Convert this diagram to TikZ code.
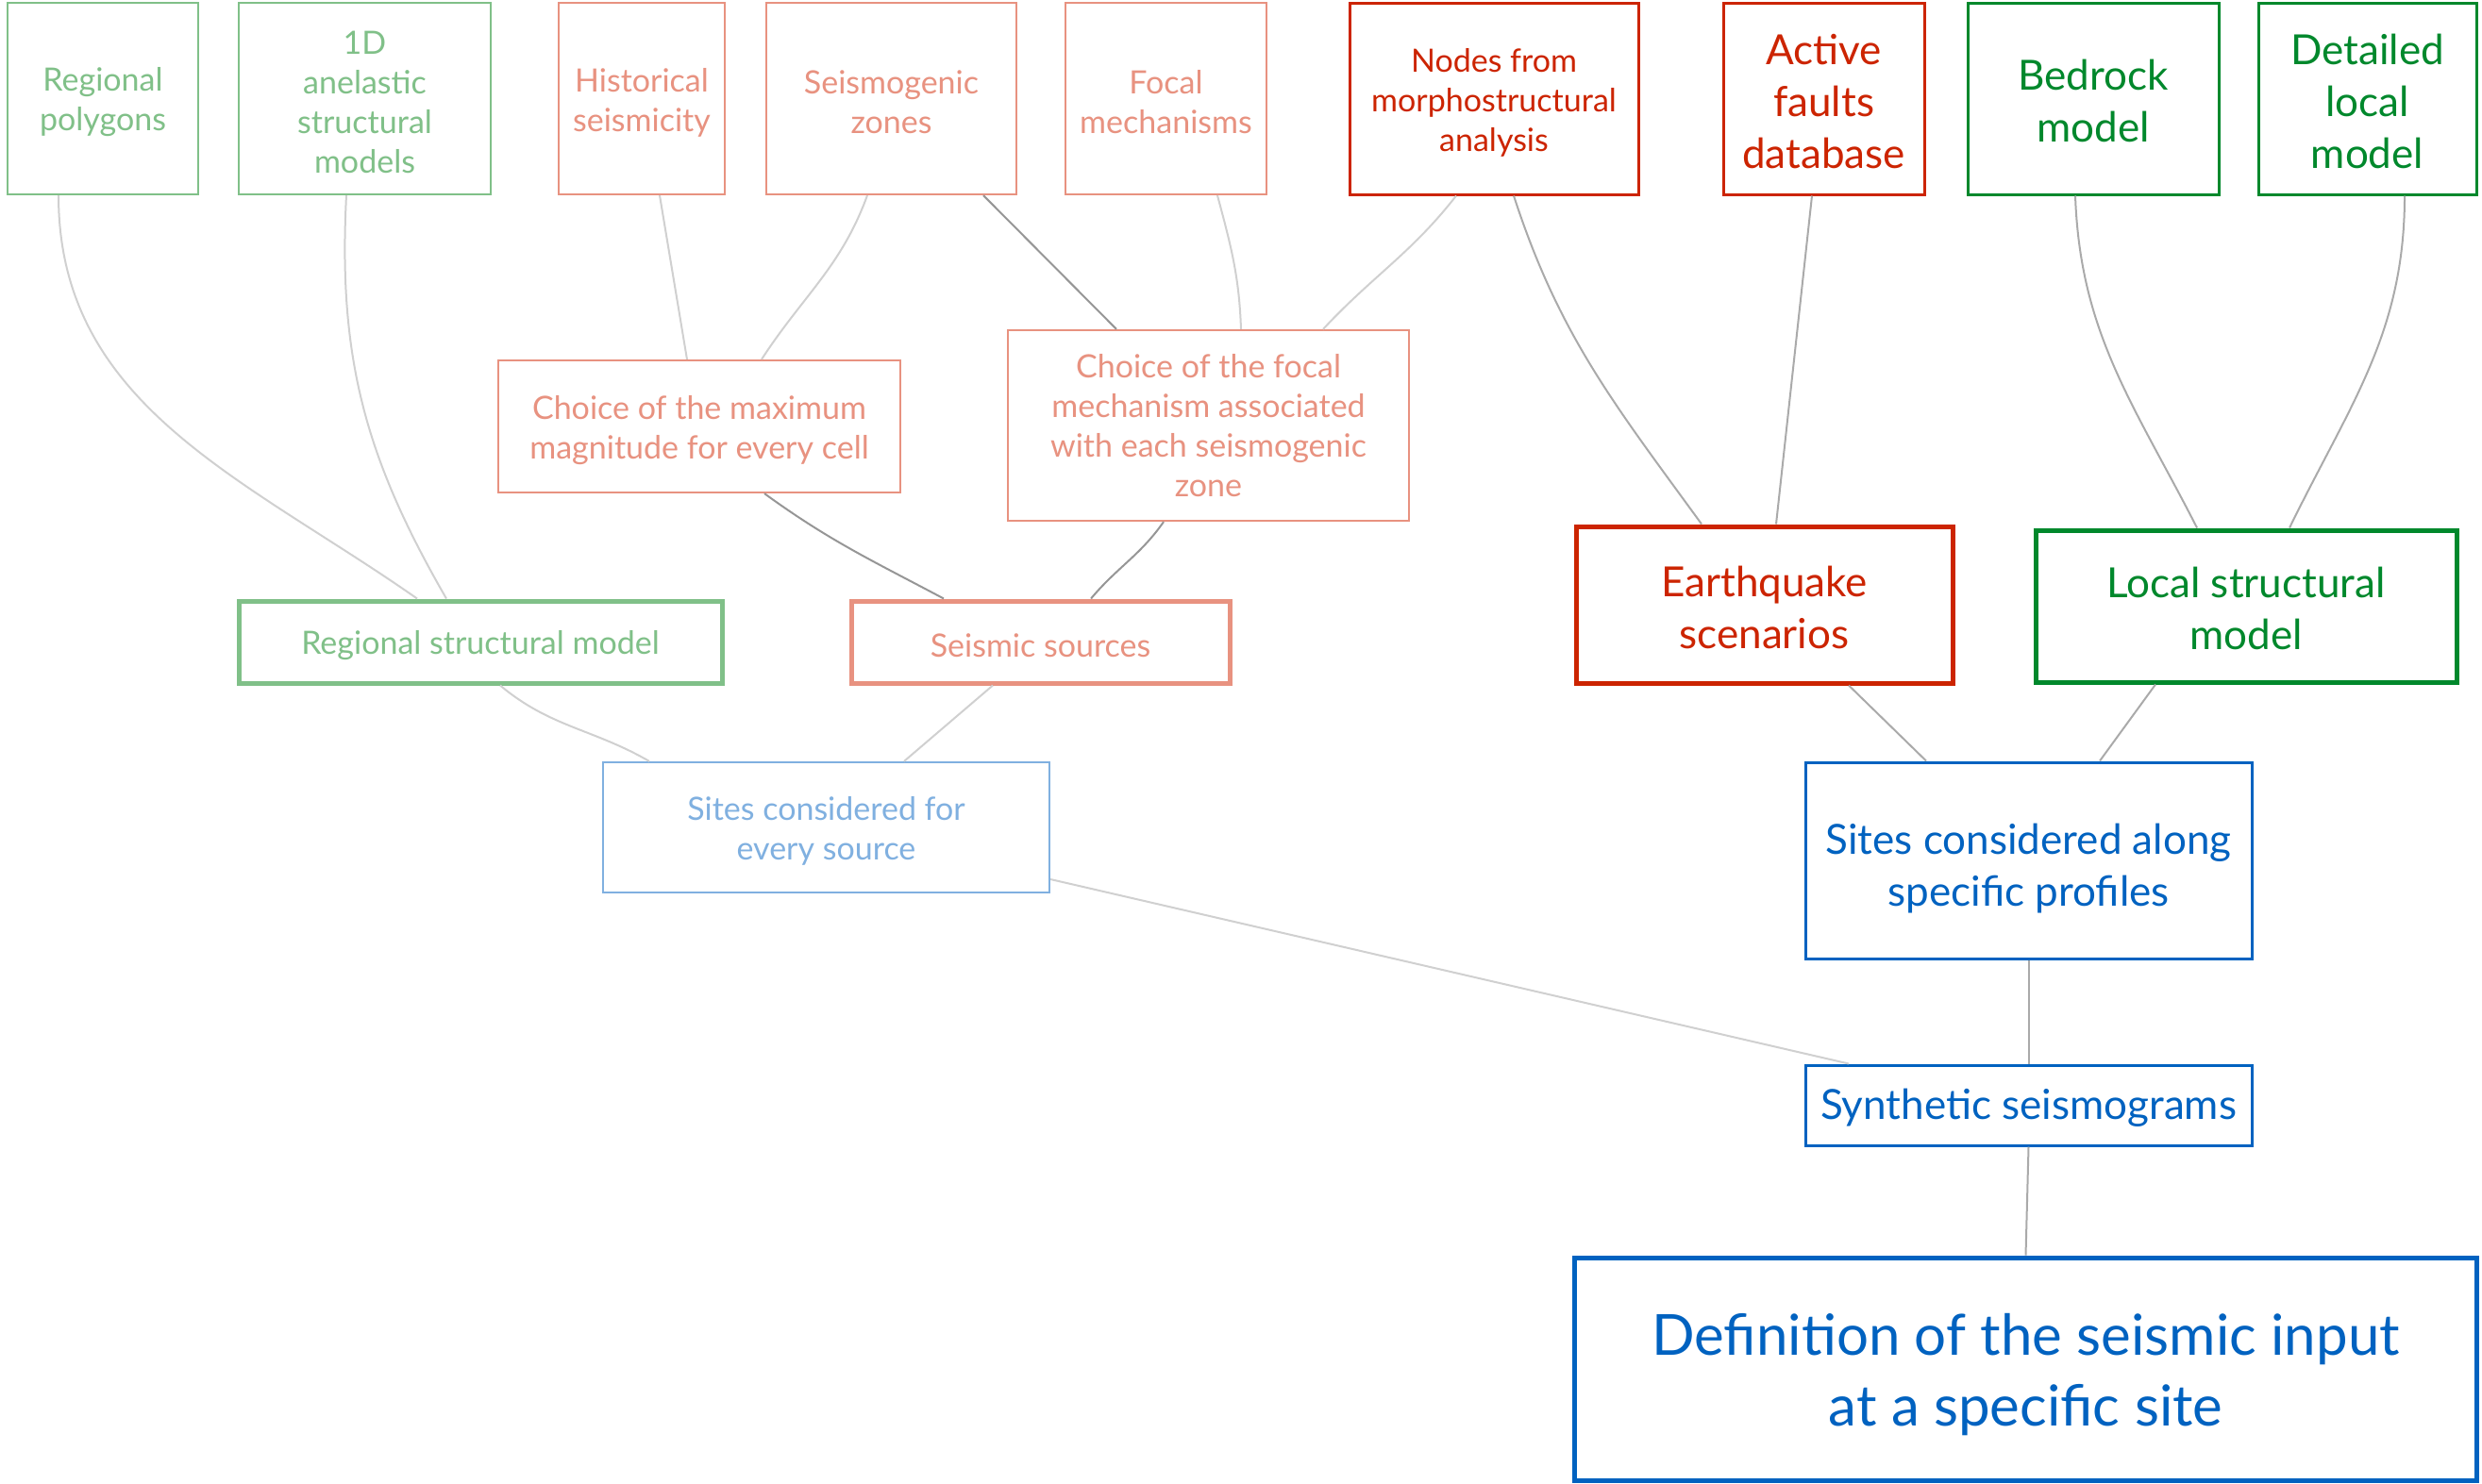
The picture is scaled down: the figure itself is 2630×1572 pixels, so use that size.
\documentclass[tikz,border=0pt]{standalone}
\usepackage{fontspec}
\setmainfont{Lato}
\usetikzlibrary{positioning, calc}

\definecolor{palegreen}{RGB}{128,192,136}
\definecolor{salmon}{RGB}{232,146,128}
\definecolor{brick}{RGB}{204,36,0}
\definecolor{forest}{RGB}{0,136,44}
\definecolor{paleblue}{RGB}{128,176,224}
\definecolor{deepblue}{RGB}{0,98,192}
\definecolor{linklight}{RGB}{208,208,208}
\definecolor{linkmid}{RGB}{170,170,170}
\definecolor{linkdark}{RGB}{150,150,150}

\newcommand{\fsA}{\fontsize{34}{42}\selectfont}
\newcommand{\fsB}{\fontsize{44}{55}\selectfont}
\newcommand{\fsC}{\fontsize{60}{75}\selectfont}
% struts that push the first line down a little
\newcommand{\liftA}{\rule{0pt}{33pt}}
\newcommand{\liftB}{\rule{0pt}{38pt}}
\newcommand{\liftC}{\rule{0pt}{57pt}}

\begin{document}
\begin{tikzpicture}[
        x=1pt, y=-1pt,
        box/.style={draw, rectangle, align=center, inner sep=0pt, fill=white},
        thinbox/.style={box, line width=2.2pt},
        midbox/.style={box, line width=3pt},
        thickbox/.style={box, line width=5pt},
        regional/.style={draw=palegreen, text=palegreen},
        seismic/.style={draw=salmon, text=salmon},
        scenario/.style={draw=brick, text=brick},
        local/.style={draw=forest, text=forest},
        siteall/.style={draw=paleblue, text=paleblue},
        siteprof/.style={draw=deepblue, text=deepblue},
        link/.style={line width=2pt, draw=linklight},
        linkm/.style={line width=2pt, draw=linkmid},
        linkd/.style={line width=2pt, draw=linkdark}
    ]
        \useasboundingbox (0,0) rectangle (2630,1572);

        % Top row: data sources
        \node (poly) [thinbox, regional, font=\fsA, minimum width=202pt, minimum height=203pt] at (109,104.5) {\liftA Regional\\polygons};
        \node (oned) [thinbox, regional, font=\fsA, minimum width=267pt, minimum height=203pt] at (386.5,104.5) {\liftA 1D\\anelastic\\structural\\models};
        \node (hist) [thinbox, seismic, font=\fsA, minimum width=176pt, minimum height=203pt] at (680,104.5) {\liftA Historical\\seismicity};
        \node (zones) [thinbox, seismic, font=\fsA, minimum width=265pt, minimum height=203pt] at (944.5,104.5) {\liftA Seismogenic\\zones};
        \node (focal) [thinbox, seismic, font=\fsA, minimum width=213pt, minimum height=203pt] at (1235.5,104.5) {\liftA Focal\\mechanisms};
        \node (morpho) [midbox, scenario, font=\fsA, minimum width=306pt, minimum height=203pt] at (1583,104.5) {\liftA Nodes from\\morphostructural\\analysis};
        \node (faults) [midbox, scenario, font=\fsB, minimum width=213pt, minimum height=203pt] at (1932.5,104.5) {\liftB Active\\faults\\database};
        \node (bedrock) [midbox, local, font=\fsB, minimum width=266pt, minimum height=203pt] at (2218,104.5) {\liftB Bedrock\\model};
        \node (detailed) [midbox, local, font=\fsB, minimum width=231pt, minimum height=203pt] at (2508.5,104.5) {\liftB Detailed\\local\\model};

        % Intermediate choices and models
        \node (choicemax) [thinbox, seismic, font=\fsA, minimum width=426pt, minimum height=140pt] at (741,452) {\liftA Choice of the maximum\\magnitude for every cell};
        \node (choicefocal) [thinbox, seismic, font=\fsA, minimum width=425pt, minimum height=202pt] at (1280.5,451) {Choice of the focal\\mechanism associated\\with each seismogenic\\zone};
        \node (quake) [thickbox, scenario, font=\fsB, minimum width=399pt, minimum height=166pt] at (1869.5,641) {\liftB Earthquake\\scenarios};
        \node (localmod) [thickbox, local, font=\fsB, minimum width=446pt, minimum height=161pt] at (2380,642.5) {\liftB Local structural\\model};
        \node (regmod) [thickbox, regional, font=\fsA, minimum width=512pt, minimum height=87pt] at (509,680.5) {\liftA Regional structural model};
        \node (sources) [thickbox, seismic, font=\fsA, minimum width=401pt, minimum height=87pt] at (1102.5,680.5) {\liftA Seismic sources};

        % Sites and output
        \node (sitesall) [thinbox, siteall, font=\fsA, minimum width=473pt, minimum height=138pt] at (875.5,877) {\liftA Sites considered for\\every source};
        \node (sitesprof) [midbox, siteprof, font=\fsB, minimum width=473pt, minimum height=208pt] at (2149.5,912) {\rule{0pt}{49pt}Sites considered along\\specific profiles};
        \node (synth) [midbox, siteprof, font=\fsB, minimum width=473pt, minimum height=85pt] at (2149.5,1171.5) {\liftB Synthetic seismograms};
        \node (definput) [thickbox, siteprof, font=\fsC, minimum width=956pt, minimum height=236pt] at (2146.5,1451) {\liftC Definition of the seismic input\\at a specific site};

        % Links
        \draw[link] ([xshift=-47pt]poly.south) to[out=-90, in=145] ([xshift=-67pt]regmod.north);
        \draw[link] ([xshift=-19.5pt]oned.south) to[out=-93, in=120] ([xshift=-36pt]regmod.north);
        \draw[link] ([xshift=19pt]hist.south) -- ([xshift=-13pt]choicemax.north);
        \draw[link] ([xshift=-25.5pt]zones.south) to[out=-110, in=57] ([xshift=66pt]choicemax.north);
        \draw[linkd] ([xshift=97.5pt]zones.south) -- ([xshift=-97.5pt]choicefocal.north);
        \draw[link] ([xshift=54.5pt]focal.south) to[out=-75, in=92] ([xshift=34.5pt]choicefocal.north);
        \draw[link] ([xshift=-40pt]morpho.south) to[out=-128, in=47] ([xshift=121.5pt]choicefocal.north);
        \draw[linkm] ([xshift=21pt]morpho.south) to[out=-72, in=126] ([xshift=-66.5pt]quake.north);
        \draw[linkm] ([xshift=-12.5pt]faults.south) -- ([xshift=12.5pt]quake.north);
        \draw[linkm] ([xshift=-19pt]bedrock.south) to[out=-88, in=117] ([xshift=-52pt]localmod.north);
        \draw[linkm] ([xshift=39.5pt]detailed.south) to[out=-90, in=64] ([xshift=46pt]localmod.north);
        \draw[linkd] ([xshift=69pt]choicemax.south) to[out=-36, in=152] ([xshift=-102.5pt]sources.north);
        \draw[linkd] ([xshift=-47.5pt]choicefocal.south) to[out=-125, in=50] ([xshift=53.5pt]sources.north);
        \draw[link] ([xshift=21pt]regmod.south) to[out=-40, in=150] ([xshift=-187.5pt]sitesall.north);
        \draw[link] ([xshift=-50.5pt]sources.south) -- ([xshift=82.5pt]sitesall.north);
        \draw[linkm] ([xshift=89.5pt]quake.south) -- ([xshift=-108.5pt]sitesprof.north);
        \draw[linkm] ([xshift=-96pt]localmod.south) -- ([xshift=75.5pt]sitesprof.north);
        \draw[link] ([yshift=-55pt]sitesall.east) -- ([xshift=-190.5pt]synth.north);
        \draw[linkm] (sitesprof.south) -- (synth.north);
        \draw[linkm] (synth.south) -- (definput.north);

    \end{tikzpicture}
\end{document}
